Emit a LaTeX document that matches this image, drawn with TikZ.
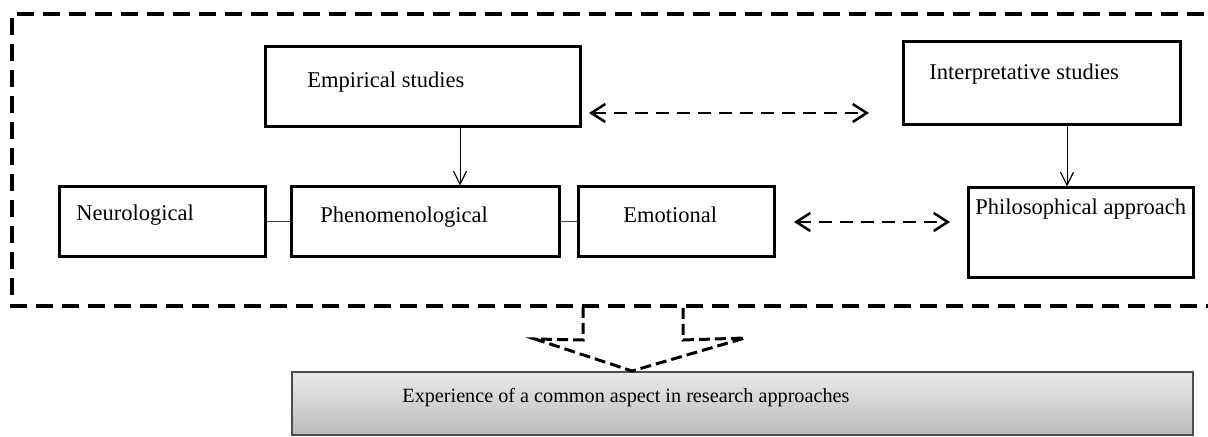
\documentclass[tikz,border=0pt]{standalone}
\usepackage{fontspec}
\setmainfont{Liberation Serif}
\usetikzlibrary{arrows.meta}
\begin{document}
\begin{tikzpicture}[x=0.5pt,y=-0.5pt,
  box/.style={draw=black,line width=1.5pt,inner sep=0pt},
  txt/.style={inner sep=0pt,anchor=base west,font=\fontsize{11.25pt}{13pt}\selectfont},
  smalltxt/.style={txt,font=\fontsize{10.1pt}{12pt}\selectfont},
  thinarrow/.style={line width=0.5pt,-{Straight Barb[length=6.5pt,width=6.5pt,line width=0.6pt]}},
  thinline/.style={line width=0.5pt,draw=black!75},
  dasharrow/.style={line width=1.25pt,dash pattern=on 6.5pt off 4pt,{Straight Barb[length=7pt,width=9pt,line width=1.25pt]}-{Straight Barb[length=7pt,width=9pt,line width=1.25pt]}},
  outerdash/.style={line width=2pt,dash pattern=on 8.5pt off 4.5pt},
  blockdash/.style={line width=1.5pt,dash pattern=on 5.5pt off 2.5pt,line join=miter}
]
\useasboundingbox (0,0) rectangle (1208,437);

% boxes
\node[box,minimum width=157.5pt,minimum height=40pt] (emp) at (422.5,87) {};
\node[box,minimum width=138.5pt,minimum height=41.5pt] (interp) at (1041.5,83.5) {};
\node[box,minimum width=103pt,minimum height=35pt] (neuro) at (162,222) {};
\node[box,minimum width=134pt,minimum height=35pt] (phen) at (425,222) {};
\node[box,minimum width=98pt,minimum height=35pt] (emot) at (676,222) {};
\node[box,minimum width=112.5pt,minimum height=45pt] (phil) at (1080.5,233) {};
\node[draw=black!70,line width=1pt,top color=black!8,bottom color=black!27,
      minimum width=450.5pt,minimum height=31.5pt,inner sep=0pt] (exp) at (742.5,403.5) {};

% texts
\node[txt] (empT) at (307,88) {Empirical studies};
\node[txt] (interpT) at (929,80) {Interpretative studies};
\node[txt] (neuroT) at (76,221) {Neurological};
\node[txt] (phenT) at (320,223) {Phenomenological};
\node[txt] (emotT) at (623,223) {Emotional};
\node[txt] (philT) at (975,215) {Philosophical approach};
\node[smalltxt] (expT) at (402,402) {Experience of a common aspect in research approaches};

% thin connectors
\coordinate (ex) at (460,0);
\coordinate (ix) at (1067,0);
\draw[thinarrow] (emp.south -| ex) -- (phen.north -| ex);
\draw[thinarrow] (interp.south -| ix) -- (phil.north -| ix);
\draw[thinline] (neuro.east) -- (phen.west);
\draw[thinline] (phen.east) -- (emot.west);

% dashed double arrows
\coordinate (d1) at (589,113);
\coordinate (d2) at (869,113);
\draw[dasharrow] (d1) -- (d2);
\coordinate (d3) at (794,222);
\coordinate (d4) at (950,222);
\draw[dasharrow] (d3) -- (d4);

% outer dashed frame
\coordinate (o1) at (1230,14);
\coordinate (o2) at (12,14);
\coordinate (o3) at (12,306);
\coordinate (o4) at (1230,306);
\draw[outerdash] (o1) -- (o2) -- (o3) -- (o4);

% dashed block arrow
\coordinate (b1) at (583,307);
\coordinate (b2) at (583,340);
\coordinate (b3) at (535,339);
\coordinate (b5) at (745,338);
\coordinate (b6) at (683,340);
\coordinate (b7) at (683,307);
\coordinate (tipx) at (632,0);
\draw[blockdash] (b1) -- (b2) -- (b3) -- (exp.north -| tipx) -- (b5) -- (b6) -- (b7);
\end{tikzpicture}
\end{document}
